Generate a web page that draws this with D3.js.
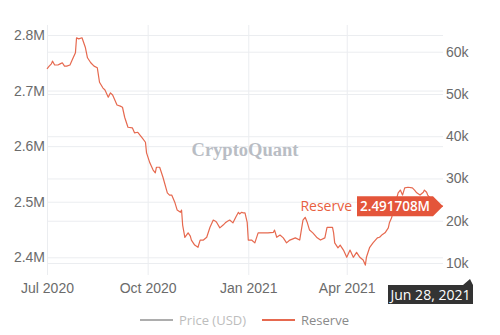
<!DOCTYPE html>
<html><head><meta charset="utf-8">
<script src="https://cdn.jsdelivr.net/npm/d3@7/dist/d3.min.js"></script>
<style>html,body{margin:0;padding:0;background:#fff;}svg{display:block;font-family:"Open Sans",sans-serif;}</style>
</head><body><svg id="c" width="500" height="335"></svg>
<script>
const dates = ["2020-07-01","2020-07-03","2020-07-05","2020-07-06","2020-07-08","2020-07-11","2020-07-13","2020-07-15","2020-07-17","2020-07-19","2020-07-22","2020-07-24","2020-07-27","2020-07-28","2020-07-30","2020-08-02","2020-08-05","2020-08-07","2020-08-10","2020-08-13","2020-08-16","2020-08-18","2020-08-21","2020-08-23","2020-08-26","2020-08-28","2020-08-30","2020-09-03","2020-09-06","2020-09-08","2020-09-10","2020-09-13","2020-09-17","2020-09-19","2020-09-22","2020-09-26","2020-09-29","2020-09-30","2020-10-03","2020-10-06","2020-10-08","2020-10-09","2020-10-12","2020-10-15","2020-10-19","2020-10-21","2020-10-23","2020-10-26","2020-10-28","2020-10-31","2020-11-01","2020-11-02","2020-11-04","2020-11-07","2020-11-09","2020-11-10","2020-11-13","2020-11-16","2020-11-18","2020-11-21","2020-11-24","2020-11-27","2020-11-30","2020-12-02","2020-12-03","2020-12-06","2020-12-09","2020-12-11","2020-12-13","2020-12-15","2020-12-18","2020-12-21","2020-12-23","2020-12-24","2020-12-26","2020-12-27","2020-12-29","2020-12-31","2021-01-01","2021-01-03","2021-01-04","2021-01-07","2021-01-10","2021-01-14","2021-01-19","2021-01-24","2021-01-25","2021-01-27","2021-01-30","2021-02-02","2021-02-05","2021-02-08","2021-02-13","2021-02-17","2021-02-20","2021-02-22","2021-02-24","2021-02-26","2021-03-01","2021-03-05","2021-03-08","2021-03-12","2021-03-14","2021-03-17","2021-03-19","2021-03-20","2021-03-21","2021-03-24","2021-03-26","2021-03-29","2021-04-01","2021-04-04","2021-04-07","2021-04-10","2021-04-13","2021-04-16","2021-04-18","2021-04-19","2021-04-22","2021-04-25","2021-04-29","2021-05-01","2021-05-03","2021-05-06","2021-05-09","2021-05-10","2021-05-12","2021-05-15","2021-05-18","2021-05-20","2021-05-22","2021-05-24","2021-05-27","2021-05-31","2021-06-02","2021-06-04","2021-06-07","2021-06-10","2021-06-11","2021-06-13","2021-06-14","2021-06-18","2021-06-22","2021-06-28"];
const reserve = [2.739,2.744,2.748,2.753,2.746,2.746,2.748,2.750,2.744,2.744,2.746,2.755,2.768,2.795,2.793,2.795,2.778,2.759,2.750,2.744,2.741,2.715,2.705,2.701,2.688,2.696,2.692,2.674,2.672,2.670,2.652,2.634,2.633,2.624,2.625,2.615,2.607,2.588,2.570,2.557,2.552,2.562,2.562,2.544,2.516,2.512,2.512,2.498,2.485,2.481,2.485,2.458,2.436,2.444,2.438,2.431,2.422,2.418,2.431,2.431,2.436,2.454,2.467,2.465,2.463,2.453,2.458,2.462,2.465,2.467,2.462,2.474,2.481,2.478,2.481,2.480,2.480,2.463,2.431,2.431,2.431,2.426,2.444,2.444,2.444,2.445,2.449,2.436,2.440,2.435,2.426,2.431,2.435,2.431,2.467,2.472,2.462,2.449,2.444,2.435,2.431,2.435,2.454,2.454,2.454,2.444,2.426,2.417,2.422,2.413,2.400,2.413,2.400,2.409,2.400,2.395,2.386,2.400,2.418,2.426,2.435,2.436,2.440,2.444,2.453,2.462,2.471,2.494,2.516,2.521,2.512,2.525,2.526,2.525,2.521,2.516,2.512,2.517,2.521,2.517,2.512,2.503,2.496,2.491708];
const leftTicks = [2.4, 2.5, 2.6, 2.7, 2.8];
const rightTicks = [10000, 20000, 30000, 40000, 50000, 60000];
const xTickDates = ["2020-07-01","2020-10-01","2021-01-01","2021-04-01"];
const seriesNames = ["Price (USD)", "Reserve"];
const lastLabel = "2.491708M";
const dateLabel = "Jun 28, 2021";

const parse = d3.timeParse("%Y-%m-%d");
const data = dates.map((d,i)=>({date:parse(d), v:reserve[i]}));
const svg = d3.select("#c");
const RED = "#e6694f", BOX = "#e4553a", GRID = "#ebedf0", TXT = "#6b6b6b";

const x = d3.scaleTime().domain([parse("2020-07-01"), parse("2021-06-28")]).range([47, 443]);
const yL = d3.scaleLinear().domain([2.4, 2.8]).range([257.3, 35]);
const yR = d3.scaleLinear().domain([10000, 60000]).range([263, 51.7]);
const plotTop = 25, plotBottom = 275;

// vertical grid
svg.append("g").attr("transform",`translate(0,${plotBottom})`)
  .call(d3.axisBottom(x).tickValues(xTickDates.map(parse)).tickSize(-(plotBottom-plotTop)).tickFormat(d3.timeFormat("%b %Y")))
  .call(g=>{g.select(".domain").remove();
    g.selectAll("line").attr("stroke",GRID);
    g.selectAll("text").attr("fill",TXT).attr("font-size",14).attr("dy","0").attr("y",18);});
// right grid + labels
svg.append("g").attr("transform","translate(443,0)")
  .call(d3.axisRight(yR).tickValues(rightTicks).tickSize(-396).tickPadding(4).tickFormat(d=>(d/1000)+"k"))
  .call(g=>{g.select(".domain").remove();
    g.selectAll("line").attr("stroke",GRID);
    g.selectAll("text").attr("fill",TXT).attr("font-size",14).attr("x",3);});
// left grid + labels
svg.append("g").attr("transform","translate(47,0)")
  .call(d3.axisLeft(yL).tickValues(leftTicks).tickSize(-396).tickFormat(d=>d.toFixed(1)+"M"))
  .call(g=>{g.select(".domain").remove();
    g.selectAll("line").attr("stroke",GRID);
    g.selectAll("text").attr("fill",TXT).attr("font-size",14).attr("x",-2);});

// watermark
svg.append("text").attr("x",245).attr("y",156).attr("text-anchor","middle")
  .attr("font-family","'Liberation Serif',serif").attr("font-weight","bold").attr("font-size",18.5)
  .attr("fill","#b9bdc4").text("CryptoQuant");

// line
svg.append("path").datum(data).attr("fill","none").attr("stroke",RED).attr("stroke-width",1.2)
  .attr("stroke-linejoin","round")
  .attr("d", d3.line().x(d=>x(d.date)).y(d=>yL(d.v)));

// end label
const last = data[data.length-1];
const tx = x(last.date), ty = yL(last.v);
const bw = 76, bh = 20, bx = tx - 10 - bw;
svg.append("path").attr("fill",BOX)
  .attr("d",`M${bx},${ty-bh/2}H${bx+bw}L${tx},${ty}L${bx+bw},${ty+bh/2}H${bx}Z`);
svg.append("text").attr("x",bx+bw/2).attr("y",ty+5).attr("text-anchor","middle")
  .attr("fill","#fff").attr("font-size",14).attr("font-weight","600")
  .attr("textLength",70).attr("lengthAdjust","spacingAndGlyphs").text(lastLabel);
svg.append("text").attr("x",bx-5).attr("y",ty+4.5).attr("text-anchor","end")
  .attr("fill","#e8603f").attr("font-size",14).text(seriesNames[1]);

// date label
const dr = tx + 30, dw = 85, dtop = 285, dh = 19;
svg.append("path").attr("fill","#333")
  .attr("d",`M${dr-dw},${dtop}H${dr-10}L${dr-3},${dtop-6}L${dr},${dtop}V${dtop+dh}H${dr-dw}Z`);
svg.append("text").attr("x",dr-dw/2).attr("y",dtop+15).attr("text-anchor","middle")
  .attr("fill","#fff").attr("font-size",14)
  .attr("textLength",80).attr("lengthAdjust","spacingAndGlyphs").text(dateLabel);

// legend
const lg = svg.append("g");
const legendItems = [{name:seriesNames[0], color:"#adadad", text:"#bdbdbd", x0:140},{name:seriesNames[1], color:RED, text:"#8a8a8a", x0:262}];
legendItems.forEach(it=>{
  lg.append("line").attr("x1",it.x0).attr("x2",it.x0+33).attr("y1",320).attr("y2",320).attr("stroke",it.color).attr("stroke-width",2);
  lg.append("text").attr("x",it.x0+39).attr("y",325).attr("font-size",13).attr("fill",it.text).text(it.name);
});
</script></body></html>
